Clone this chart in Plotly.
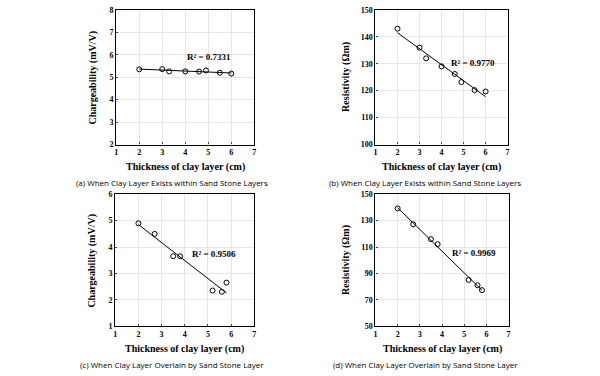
import numpy as np
import plotly.graph_objects as go

# ---- data ----
thick_top = [2, 3, 3.3, 4, 4.6, 4.9, 5.5, 6]
charg_a = [5.35, 5.36, 5.26, 5.26, 5.25, 5.30, 5.20, 5.16]
resist_b = [143, 136, 132, 129, 126.2, 123.2, 120.2, 119.7]

thick_bot = [2, 2.7, 3.5, 3.8, 5.2, 5.6, 5.8]
charg_c = [4.9, 4.5, 3.65, 3.65, 2.35, 2.3, 2.65]
resist_d = [139.3, 127.2, 116, 112.2, 85, 81, 77.3]

r2_labels = ["R² = 0.7331", "R² = 0.9770", "R² = 0.9506", "R² = 0.9969"]
captions = ["(a) When Clay Layer Exists within Sand Stone Layers",
            "(b) When Clay Layer Exists within Sand Stone Layers",
            "(c) When Clay Layer Overlain by Sand Stone Layer",
            "(d) When Clay Layer Overlain by Sand Stone Layer"]
y_titles = ["Chargeability (mV/V)", "Resistivity (Ωm)",
            "Chargeability (mV/V)", "Resistivity (Ωm)"]
x_title = "Thickness of clay layer (cm)"
x_ticks = [1, 2, 3, 4, 5, 6, 7]
y_ranges = [(2, 8, 1), (100, 150, 10), (1, 6, 1), (50, 150, 20)]
r2_pos = [(5.05, 5.92), (5.42, 130.3), (5.27, 3.72), (5.43, 105.4)]

W, H = 600, 376
# pixel boxes: left, right, top, bottom
boxes = [(115, 254, 6, 144), (376, 509, 6, 144),
         (114, 254, 195, 330), (376, 510, 195, 330)]


def px(x):
    return x / W


def py(y):
    return 1 - y / H


series = [(thick_top, charg_a), (thick_top, resist_b),
          (thick_bot, charg_c), (thick_bot, resist_d)]

serif = "Liberation Serif"
fig = go.Figure()
layout = {}
annotations = []
for i, ((xs, ys), (l, r, t, b)) in enumerate(zip(series, boxes)):
    n = "" if i == 0 else str(i + 1)
    xa, ya = "x" + n, "y" + n
    coef = np.polyfit(xs, ys, 1)
    fx = [min(xs), max(xs)]
    fy = [coef[0] * v + coef[1] for v in fx]
    fig.add_trace(go.Scatter(x=fx, y=fy, mode="lines", xaxis=xa, yaxis=ya,
                             line=dict(color="black", width=1), showlegend=False))
    fig.add_trace(go.Scatter(x=xs, y=ys, mode="markers", xaxis=xa, yaxis=ya,
                             marker=dict(symbol="circle-open", size=5, color="black",
                                         line=dict(width=1)),
                             showlegend=False))
    y0, y1, dy = y_ranges[i]
    axis_common = dict(showgrid=True, gridcolor="#e6e6e6", gridwidth=1,
                       showline=True, linecolor="black", linewidth=1.3,
                       mirror=True, ticks="inside", ticklen=2, tickwidth=1,
                       tickcolor="#444", zeroline=False,
                       tickfont=dict(family=serif, size=8, color="black",
                                     weight="bold"))
    layout["xaxis" + n] = dict(domain=[px(l), px(r)], anchor=ya, range=[1, 7],
                               tickvals=x_ticks, **axis_common)
    layout["yaxis" + n] = dict(domain=[py(b), py(t)], anchor=xa,
                               range=[y0, y1], tickvals=list(range(y0, y1 + 1, dy)),
                               **axis_common)
    # R2 label
    annotations.append(dict(x=r2_pos[i][0], y=r2_pos[i][1], xref=xa, yref=ya,
                            text="<b>" + r2_labels[i] + "</b>", showarrow=False,
                            font=dict(family=serif, size=9, color="black")))
    # y title
    ytx = (l - 23) if i % 2 == 0 else (l - 29)
    annotations.append(dict(x=px(ytx), y=py((t + b) / 2), xref="paper", yref="paper",
                            text="<b>" + y_titles[i] + "</b>", textangle=-90,
                            showarrow=False, xanchor="center", yanchor="middle",
                            font=dict(family=serif, size=10, color="black")))
    # x title
    annotations.append(dict(x=px((l + r) / 2), y=py(b + 23), xref="paper",
                            yref="paper", text="<b>" + x_title + "</b>",
                            showarrow=False, xanchor="center", yanchor="middle",
                            font=dict(family=serif, size=10, color="black")))
    # caption
    cx = (l + r) / 2 - (13 if i % 2 == 0 else 17)
    annotations.append(dict(x=px(cx), y=py(b + 39), xref="paper",
                            yref="paper", text=captions[i], showarrow=False,
                            xanchor="center", yanchor="middle",
                            font=dict(family="Open Sans", size=8, color="black")))

fig.update_layout(width=W, height=H, margin=dict(l=0, r=0, t=0, b=0),
                  plot_bgcolor="white", paper_bgcolor="white",
                  annotations=annotations, **layout)
fig.write_html("out.html", config={"displayModeBar": False},
               post_script="document.body.style.margin='0px';"
                           "document.body.style.overflow='hidden';")
